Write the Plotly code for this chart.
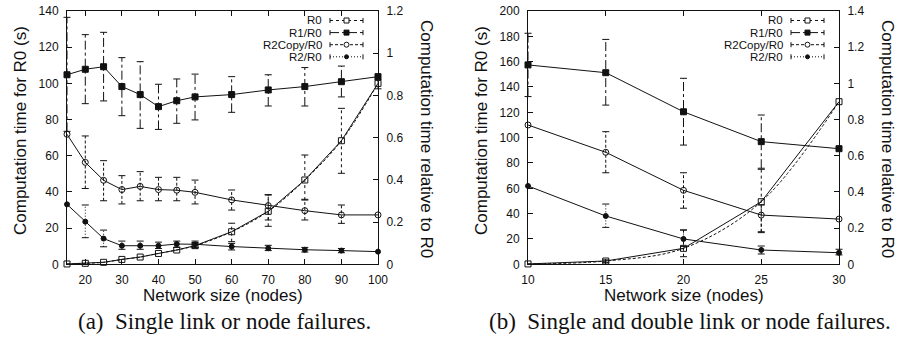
import plotly.graph_objects as go

# ---------------- data (a) ----------------
x_a = [15, 20, 25, 30, 35, 40, 45, 50, 60, 70, 80, 90, 100]
r0_a = [0.2, 0.55, 1.1, 2.7, 4.0, 6.0, 7.9, 10.3, 18.0, 29.3, 46.6, 68.3, 100.0]
r0_a_lo = [None, None, None, None, None, None, None, 9.0, 12.5, 21.0, 35.5, 50.3, 97.0]
r0_a_hi = [None, None, None, None, None, None, None, 12.0, 22.7, 38.3, 60.4, 86.2, 102.0]
r1_a = [0.898, 0.924, 0.936, 0.842, 0.804, 0.747, 0.775, 0.793, 0.804, 0.826, 0.842, 0.865, 0.889]
r1_a_lo = [0.63, 0.761, 0.774, 0.704, 0.644, 0.639, 0.668, 0.684, 0.72, 0.75, 0.75, 0.793, None]
r1_a_hi = [1.17, 1.088, 1.099, 0.979, 0.96, 0.853, 0.878, 0.901, 0.889, 0.898, 0.932, 0.939, None]
r2c_a = [0.616, 0.483, 0.398, 0.354, 0.369, 0.354, 0.351, 0.341, 0.305, 0.278, 0.254, 0.234, 0.234]
r2c_a_lo = [None, 0.359, 0.301, 0.286, 0.301, 0.301, 0.301, 0.286, 0.257, 0.21, 0.21, 0.194, None]
r2c_a_hi = [None, 0.608, 0.491, 0.42, 0.439, 0.412, 0.412, 0.399, 0.352, 0.33, 0.308, 0.281, None]
r2_a = [0.284, 0.202, 0.122, 0.088, 0.088, 0.088, 0.096, 0.095, 0.084, 0.076, 0.069, 0.065, 0.06]
r2_a_lo = [None, 0.126, 0.083, 0.071, 0.071, 0.075, 0.08, 0.08, 0.068, 0.065, 0.058, 0.055, None]
r2_a_hi = [None, 0.281, 0.162, 0.11, 0.11, 0.105, 0.11, 0.11, 0.099, 0.09, 0.08, 0.075, None]

# ---------------- data (b) ----------------
x_b = [10, 15, 20, 25, 30]
r0_b = [0.3, 2.6, 12.6, 49.4, 128.4]
r0_b_lo = [None, 1.5, 6.0, 25.0, None]
r0_b_hi = [None, 3.5, 27.0, 75.0, None]
r1_b = [1.102, 1.059, 0.843, 0.678, 0.639]
r1_b_lo = [0.927, 0.88, 0.659, 0.531, None]
r1_b_hi = [1.277, 1.243, 1.028, 0.825, None]
r2c_b = [0.77, 0.619, 0.409, 0.272, 0.25]
r2c_b_lo = [None, 0.506, 0.31, 0.18, None]
r2c_b_hi = [None, 0.733, 0.506, 0.328, None]
r2_b = [0.433, 0.267, 0.14, 0.079, 0.064]
r2_b_lo = [None, 0.204, 0.098, 0.057, 0.052]
r2_b_hi = [None, 0.333, 0.19, 0.101, 0.083]

series_names = ["R0", "R1/R0", "R2Copy/R0", "R2/R0"]
xticks_a = [20, 30, 40, 50, 60, 70, 80, 90, 100]
xticks_b = [10, 15, 20, 25, 30]

# ---------------- layout helpers ----------------
W, H = 899, 341
def px(x):
    return x / W
def py(y):
    return 1 - y / H

PLOT_TOP, PLOT_BOT = 11, 264.3
A_L, A_R = 67, 378
B_L, B_R = 528, 839

INK = "#111111"
SANS = "Liberation Sans, Arial, sans-serif"
SERIF = "Liberation Serif, Times New Roman, serif"

styles = {
    "R0": dict(symbol="square-open", size=6, dash="dot"),
    "R1/R0": dict(symbol="square", size=6, dash="dashdot"),
    "R2Copy/R0": dict(symbol="circle-open", size=6, dash="3px,2px"),
    "R2/R0": dict(symbol="circle", size=5, dash="1px,2px"),
}

fig = go.Figure()

def add_series(name, xs, ys, lo, hi, xa, ya):
    st = styles[name]
    bx, by, cx, cy = [], [], [], []
    for xi, l, h in zip(xs, lo, hi):
        if l is None or h is None:
            continue
        bx += [xi, xi, None]
        by += [l, h, None]
        cx += [xi, xi]
        cy += [l, h]
    fig.add_trace(go.Scatter(x=bx, y=by, mode="lines", xaxis=xa, yaxis=ya,
                             line=dict(color=INK, width=1, dash=st["dash"]),
                             showlegend=False, hoverinfo="skip", cliponaxis=False))
    fig.add_trace(go.Scatter(x=cx, y=cy, mode="markers", xaxis=xa, yaxis=ya,
                             marker=dict(symbol="line-ew", size=5, color=INK,
                                         line=dict(color=INK, width=1)),
                             showlegend=False, hoverinfo="skip", cliponaxis=False))
    fig.add_trace(go.Scatter(x=xs, y=ys, mode="lines+markers", name=name,
                             xaxis=xa, yaxis=ya,
                             line=dict(color=INK, width=1),
                             marker=dict(symbol=st["symbol"], size=st["size"], color=INK,
                                         line=dict(color=INK, width=1)),
                             showlegend=False, cliponaxis=False))

# (a)
fig.add_trace(go.Scatter(x=x_a, y=r0_a, mode="lines", xaxis="x", yaxis="y",
                         line=dict(color=INK, width=1, dash="3px,2px", shape="spline"),
                         showlegend=False, hoverinfo="skip"))
add_series("R0", x_a, r0_a, r0_a_lo, r0_a_hi, "x", "y")
add_series("R1/R0", x_a, r1_a, r1_a_lo, r1_a_hi, "x", "y2")
add_series("R2Copy/R0", x_a, r2c_a, r2c_a_lo, r2c_a_hi, "x", "y2")
add_series("R2/R0", x_a, r2_a, r2_a_lo, r2_a_hi, "x", "y2")
# (b)
fig.add_trace(go.Scatter(x=x_b, y=r0_b, mode="lines", xaxis="x2", yaxis="y3",
                         line=dict(color=INK, width=1, dash="3px,2px", shape="spline"),
                         showlegend=False, hoverinfo="skip"))
add_series("R0", x_b, r0_b, r0_b_lo, r0_b_hi, "x2", "y3")
add_series("R1/R0", x_b, r1_b, r1_b_lo, r1_b_hi, "x2", "y4")
add_series("R2Copy/R0", x_b, r2c_b, r2c_b_lo, r2c_b_hi, "x2", "y4")
add_series("R2/R0", x_b, r2_b, r2_b_lo, r2_b_hi, "x2", "y4")

ydom = [py(PLOT_BOT), py(PLOT_TOP)]
tickfont = dict(family=SANS, size=12, color=INK)
common_x = dict(showline=True, linecolor=INK, linewidth=1, mirror="ticks", ticks="inside",
                ticklen=5, tickcolor=INK, showgrid=False, zeroline=False, tickfont=tickfont,
                automargin=False, ticklabelstandoff=4, ticklabeloverflow="allow")
common_y = dict(showline=True, linecolor=INK, linewidth=1, ticks="inside", ticklen=5,
                tickcolor=INK, showgrid=False, zeroline=False, tickfont=tickfont,
                automargin=False, ticklabelstandoff=5, ticklabeloverflow="allow")

fig.update_layout(
    width=W, height=H, template="none",
    paper_bgcolor="white", plot_bgcolor="white",
    margin=dict(l=0, r=0, t=0, b=0),
    showlegend=False,
    xaxis=dict(domain=[px(A_L), px(A_R)], range=[15, 100], tickvals=xticks_a,
               anchor="y", **common_x),
    yaxis=dict(domain=ydom, range=[0, 140], dtick=20, anchor="x", side="left", **common_y),
    yaxis2=dict(range=[0, 1.2], dtick=0.2, overlaying="y", anchor="x", side="right",
                **common_y),
    xaxis2=dict(domain=[px(B_L), px(B_R)], range=[10, 30], tickvals=xticks_b,
                anchor="y3", **common_x),
    yaxis3=dict(domain=ydom, range=[0, 200], dtick=20, anchor="x2", side="left", **common_y),
    yaxis4=dict(range=[0, 1.4], dtick=0.2, overlaying="y3", anchor="x2", side="right",
                **common_y),
)

annotations = []
shapes = []
titlefont = dict(family=SANS, size=17, color=INK)

for (L, R, cap, capx) in [(A_L, A_R, "(a)&nbsp;&nbsp;Single link or node failures.", 224.5),
                          (B_L, B_R, "(b)&nbsp;&nbsp;Single and double link or node failures.", 689.5)]:
    annotations.append(dict(x=px((L + R) / 2), y=py(295), xref="paper", yref="paper",
                            text="Network size (nodes)", showarrow=False, font=titlefont,
                            xanchor="center", yanchor="middle"))
    annotations.append(dict(x=px(L - 47), y=py(131), xref="paper", yref="paper",
                            text="Computation time for R0 (s)", showarrow=False,
                            font=titlefont, textangle=-90, xanchor="center", yanchor="middle"))
    annotations.append(dict(x=px(R + 48.5), y=py(138.5), xref="paper", yref="paper",
                            text="Computation time relative to R0", showarrow=False,
                            font=titlefont, textangle=90, xanchor="center", yanchor="middle"))
    annotations.append(dict(x=px(capx), y=py(321), xref="paper", yref="paper",
                            text=cap, showarrow=False,
                            font=dict(family=SERIF, size=23, color=INK),
                            xanchor="center", yanchor="middle"))
    # manual gnuplot-style key: text, then sample with error-bar ends
    for i, name in enumerate(series_names):
        st = styles[name]
        yrow = 20.5 + 12.1 * i
        annotations.append(dict(x=px(R - 55), y=py(yrow), xref="paper", yref="paper",
                                text=name, showarrow=False, borderpad=0,
                                font=dict(family=SANS, size=11.5, color=INK),
                                xanchor="right", yanchor="middle"))
        x0, x1 = R - 48, R - 15
        shapes.append(dict(type="line", xref="paper", yref="paper",
                           x0=px(x0), x1=px(x1), y0=py(yrow), y1=py(yrow),
                           line=dict(color=INK, width=1, dash=st["dash"])))
        for xe in (x0, x1):
            shapes.append(dict(type="line", xref="paper", yref="paper",
                               x0=px(xe), x1=px(xe), y0=py(yrow - 2.5), y1=py(yrow + 2.5),
                               line=dict(color=INK, width=1)))
        xm = (x0 + x1) / 2
        r = 2.5 if st["size"] >= 6 else 2
        filled = not st["symbol"].endswith("open")
        shapes.append(dict(type="rect" if "square" in st["symbol"] else "circle",
                           xref="paper", yref="paper",
                           x0=px(xm - r), x1=px(xm + r), y0=py(yrow + r), y1=py(yrow - r),
                           line=dict(color=INK, width=1),
                           fillcolor=INK if filled else "white"))

fig.update_layout(annotations=annotations, shapes=shapes)
fig.write_html("out.html",
               config={"displayModeBar": False, "staticPlot": True},
               post_script="document.body.style.margin='0';document.body.style.overflow='hidden';")
